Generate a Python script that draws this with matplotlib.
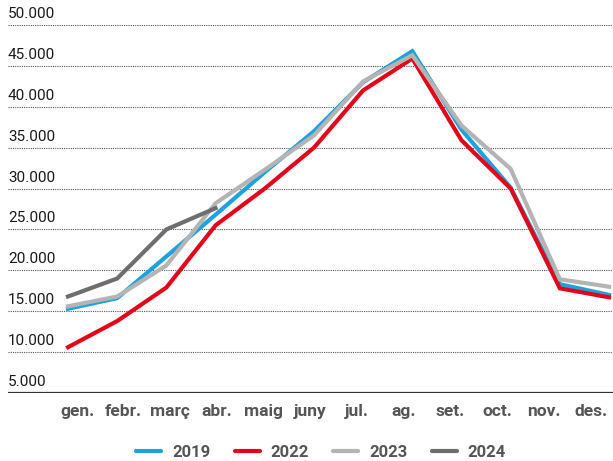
import matplotlib
matplotlib.use("Agg")
import matplotlib.pyplot as plt
import matplotlib.transforms as mtrans

plt.rcParams['font.family'] = ['Roboto', 'DejaVu Sans']

months = ['gen.', 'febr.', 'març', 'abr.', 'maig', 'juny', 'jul.', 'ag.', 'set.', 'oct.', 'nov.', 'des.']
v2019 = [15300, 16600, 21700, 26800, 32000, 37000, 43000, 46800, 37200, 30100, 18300, 17000]
v2022 = [10600, 13800, 17900, 25500, 30000, 35000, 42000, 45900, 35900, 30000, 17800, 16700]
v2023 = [15600, 16800, 20600, 28200, 32300, 36500, 43100, 46300, 37700, 32400, 18900, 18000]
v2024 = [16800, 19000, 25000, 27600]
yticks = [5000, 10000, 15000, 20000, 25000, 30000, 35000, 40000, 45000, 50000]

fig = plt.figure(figsize=(6.13, 4.61), dpi=100)
ax = fig.add_axes([8/613, 1-393/461, 1-8/613, (393-25)/461])

ax.plot(range(12), v2019, color='#1ea2dc', lw=3, label='2019', solid_joinstyle='miter')
ax.plot(range(12), v2022, color='#e2061b', lw=3, label='2022', solid_joinstyle='miter')
ax.plot(range(12), v2023, color='#b4b4b4', lw=3, label='2023', solid_joinstyle='miter')
ax.plot(range(len(v2024)), v2024, color='#6e6e6e', lw=3, label='2024', solid_joinstyle='miter')

ax.set_xlim(-1.22, 11.08)
ax.set_ylim(5000, 50000)

# dotted grid lines + labels above them
trans = mtrans.blended_transform_factory(ax.transAxes, ax.transData)
offs = mtrans.offset_copy(trans, fig=fig, x=0, y=4, units='dots')
for v in yticks:
    if v > 5000:
        ax.axhline(v, color='#555555', lw=0.8, ls=(0, (1, 1)), zorder=0)
    ax.text(0, v, f'{v:,}'.replace(',', '.'), transform=offs, ha='left', va='bottom',
            fontsize=11, color='#1a1a1a')
ax.axhline(5000, color='#333333', lw=1.6, zorder=0)

for s in ax.spines.values():
    s.set_visible(False)
ax.set_yticks([])
# month labels sit on a slightly tighter spacing than the data points
ax.set_xticks([0.183 + j * 46.7 / 49.2 for j in range(12)])
ax.set_xticklabels(months, fontsize=12.5, fontweight='bold', color='#555555')
ax.tick_params(axis='x', length=0, pad=8)

leg = fig.legend(loc='center', bbox_to_anchor=(321/613, 1-452/461), ncol=4, frameon=False,
                 handlelength=1.5, handletextpad=0.66, columnspacing=1.45,
                 prop={'size': 12, 'weight': 'bold'})
for t in leg.get_texts():
    t.set_color('#555555')
for h in leg.legend_handles:
    h.set_solid_capstyle('round')

fig.savefig('out.png', dpi=100)
